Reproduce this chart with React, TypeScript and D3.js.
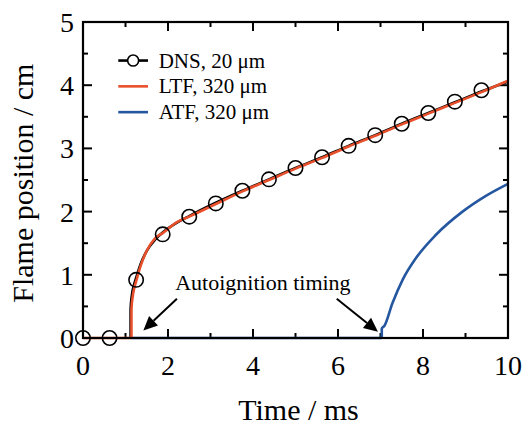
import React from 'react';
import * as d3 from 'd3';

// DNS markers (every 0.625 ms)
const dnsMarkT = [0, 0.625, 1.25, 1.875, 2.5, 3.125, 3.75, 4.375, 5.0, 5.625, 6.25, 6.875, 7.5, 8.125, 8.75, 9.375];
const dnsMarkY = [0, 0, 0.92, 1.64, 1.92, 2.13, 2.33, 2.51, 2.69, 2.86, 3.04, 3.21, 3.39, 3.56, 3.74, 3.92];

// DNS line
const dnsT = [1.12, 1.12, 1.15, 1.2, 1.25, 1.35, 1.5, 1.7, 1.875, 2.2, 2.5, 3.125, 3.75, 4.375, 5.0, 5.625, 6.25, 6.875, 7.5, 8.125, 8.75, 9.375, 10];
const dnsY = [0, 0.45, 0.68, 0.84, 0.95, 1.16, 1.38, 1.56, 1.67, 1.82, 1.93, 2.14, 2.33, 2.51, 2.69, 2.86, 3.04, 3.21, 3.39, 3.56, 3.73, 3.9, 4.06];

// LTF, 320 um
const ltfT = [0, 1.14, 1.14, 1.17, 1.2, 1.26, 1.35, 1.5, 1.7, 1.875, 2.2, 2.5, 3.125, 3.75, 4.375, 5.0, 5.625, 6.25, 6.875, 7.5, 8.125, 8.75, 9.375, 10];
const ltfY = [0, 0, 0.45, 0.66, 0.77, 0.92, 1.13, 1.38, 1.58, 1.66, 1.83, 1.92, 2.12, 2.32, 2.5, 2.68, 2.85, 3.03, 3.2, 3.38, 3.55, 3.72, 3.89, 4.07];

// ATF, 320 um
const atfT = [1.14, 7.03, 7.03, 7.09, 7.28, 7.52, 7.83, 8.3, 8.93, 9.48, 10];
const atfY = [0, 0, 0.15, 0.19, 0.55, 0.92, 1.26, 1.63, 2.0, 2.25, 2.44];

const xTicks = [0, 2, 4, 6, 8, 10];
const yTicks = [0, 1, 2, 3, 4, 5];

const legendLabels = ['DNS, 20 μm', 'LTF, 320 μm', 'ATF, 320 μm'];
const RED = '#e8502c';
const BLUE = '#2557a0';
const FONT = '"Liberation Serif", "Times New Roman", serif';

const App = () => {
  const svgRef = React.useRef<SVGSVGElement>(null);
  const W = 525, H = 427;
  const margin = { top: 22, right: 17, bottom: 89, left: 83 };
  const width = W - margin.left - margin.right;
  const height = H - margin.top - margin.bottom;

  React.useEffect(() => {
    const root = d3.select(svgRef.current);
    root.selectAll('*').remove();
    const svg = root.append('g').attr('transform', `translate(${margin.left},${margin.top})`);

    const x = d3.scaleLinear().domain([0, 10]).range([0, width]);
    const y = d3.scaleLinear().domain([0, 5]).range([height, 0]);

    const line = d3.line<[number, number]>()
      .x(d => x(d[0])).y(d => y(d[1]))
      .curve(d3.curveMonotoneX);
    const lineLin = d3.line<[number, number]>()
      .x(d => x(d[0])).y(d => y(d[1]));

    const zip = (a: number[], b: number[]) => a.map((v, i) => [v, b[i]] as [number, number]);

    // ticks inward on all four sides
    const minorX = d3.range(0, 10.01, 1);
    const minorY = d3.range(0, 5.01, 0.5);
    const tk = svg.append('g').attr('stroke', 'black').attr('stroke-width', 2);
    minorX.forEach(t => {
      const len = t % 2 === 0 ? 9 : 5;
      tk.append('line').attr('x1', x(t)).attr('x2', x(t)).attr('y1', height).attr('y2', height - len);
      tk.append('line').attr('x1', x(t)).attr('x2', x(t)).attr('y1', 0).attr('y2', len);
    });
    minorY.forEach(t => {
      const len = t % 1 === 0 ? 9 : 5;
      tk.append('line').attr('y1', y(t)).attr('y2', y(t)).attr('x1', 0).attr('x2', len);
      tk.append('line').attr('y1', y(t)).attr('y2', y(t)).attr('x1', width).attr('x2', width - len);
    });

    // lines
    svg.append('path').datum(zip(atfT.slice(0, 2), atfY.slice(0, 2)))
      .attr('d', lineLin).attr('fill', 'none').attr('stroke', BLUE).attr('stroke-width', 2.6);
    svg.append('path').datum(zip(atfT.slice(1), atfY.slice(1)))
      .attr('d', line).attr('fill', 'none').attr('stroke', BLUE).attr('stroke-width', 2.6);
    svg.append('path').datum(zip(dnsT, dnsY))
      .attr('d', line).attr('fill', 'none').attr('stroke', 'black').attr('stroke-width', 2.6);
    svg.append('path').datum(zip(ltfT.slice(0, 2), ltfY.slice(0, 2)))
      .attr('d', lineLin).attr('fill', 'none').attr('stroke', RED).attr('stroke-width', 2.6);
    svg.append('path').datum(zip(ltfT.slice(1), ltfY.slice(1)))
      .attr('d', line).attr('fill', 'none').attr('stroke', RED).attr('stroke-width', 2.6);

    // markers
    svg.append('g').selectAll('circle').data(zip(dnsMarkT, dnsMarkY)).enter()
      .append('circle')
      .attr('cx', d => x(d[0])).attr('cy', d => y(d[1])).attr('r', 7.2)
      .attr('fill', 'none').attr('stroke', 'black').attr('stroke-width', 1.6);

    // frame
    svg.append('rect').attr('width', width).attr('height', height)
      .attr('fill', 'none').attr('stroke', 'black').attr('stroke-width', 2.2);

    // tick labels
    svg.append('g').selectAll('text').data(xTicks).enter().append('text')
      .attr('x', d => x(d)).attr('y', height + 37)
      .attr('text-anchor', 'middle').style('font-family', FONT).style('font-size', '28px')
      .text(d => d);
    svg.append('g').selectAll('text').data(yTicks).enter().append('text')
      .attr('x', -9).attr('y', d => y(d) + 10)
      .attr('text-anchor', 'end').style('font-family', FONT).style('font-size', '28px')
      .text(d => d);

    // axis titles
    svg.append('text')
      .attr('x', (x(0) + x(10)) / 2 + 3).attr('y', height + 82)
      .attr('text-anchor', 'middle').style('font-family', FONT).style('font-size', '30px')
      .text('Time / ms');
    svg.append('text')
      .attr('transform', `translate(${-50},${y(2.45)}) rotate(-90)`)
      .attr('text-anchor', 'middle').style('font-family', FONT).style('font-size', '30px')
      .text('Flame position / cm');

    // legend
    const lg = svg.append('g');
    legendLabels.forEach((lab, i) => {
      const ly = y(4.39) + i * 25.8;
      const col = i === 0 ? 'black' : i === 1 ? RED : BLUE;
      lg.append('line').attr('x1', x(0.83)).attr('x2', x(1.53)).attr('y1', ly).attr('y2', ly)
        .attr('stroke', col).attr('stroke-width', 2.6);
      if (i === 0) {
        lg.append('circle').attr('cx', x(1.18)).attr('cy', ly).attr('r', 5.5)
          .attr('fill', 'white').attr('stroke', 'black').attr('stroke-width', 1.6);
      }
      lg.append('text').attr('x', x(1.78)).attr('y', ly + 7)
        .style('font-family', FONT).style('font-size', '21px').text(lab);
    });

    // annotation
    svg.append('text').attr('x', x(2.17)).attr('y', y(0.76))
      .style('font-family', FONT).style('font-size', '22px').text('Autoignition timing');

    const arrow = (t0: number, v0: number, t1: number, v1: number) => {
      const x0 = x(t0), y0 = y(v0), x1 = x(t1), y1 = y(v1);
      const ang = Math.atan2(y1 - y0, x1 - x0);
      const hl = 14, hw = 6.5;
      const bx = x1 - hl * Math.cos(ang), by = y1 - hl * Math.sin(ang);
      svg.append('line').attr('x1', x0).attr('y1', y0).attr('x2', bx).attr('y2', by)
        .attr('stroke', 'black').attr('stroke-width', 2);
      const px = -Math.sin(ang) * hw, py = Math.cos(ang) * hw;
      svg.append('path')
        .attr('d', `M${x1},${y1}L${bx + px},${by + py}L${bx - px},${by - py}Z`)
        .attr('fill', 'black');
    };
    arrow(2.21, 0.62, 1.42, 0.12);
    arrow(5.97, 0.62, 6.94, 0.1);
  // eslint-disable-next-line react-hooks/exhaustive-deps
  }, []);

  return (
    <svg ref={svgRef} width={W} height={H}
      style={{ position: 'absolute', left: 0, top: 0, background: 'white' }} />
  );
};

export default App;
